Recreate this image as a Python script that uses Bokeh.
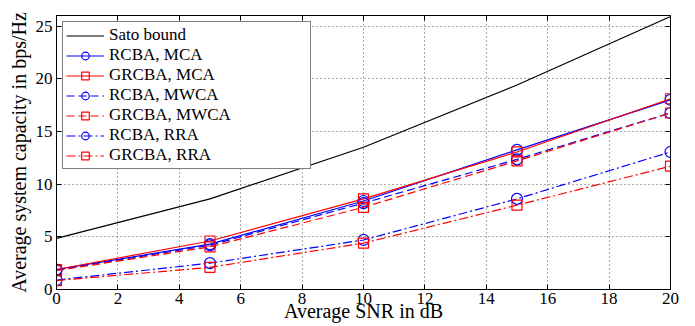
from bokeh.plotting import figure
from bokeh.models import LinearAxis, FixedTicker, Range1d
from bokeh.embed import file_html
from bokeh.resources import INLINE

snr = [0, 5, 10, 15, 20]
sato = [4.85, 8.6, 13.5, 19.4, 25.9]
rcba_mca = [1.9, 4.3, 8.4, 13.25, 18.0]
grcba_mca = [1.9, 4.6, 8.6, 13.05, 18.1]
rcba_mwca = [1.85, 4.2, 8.2, 12.35, 16.75]
grcba_mwca = [1.8, 4.05, 7.8, 12.2, 16.75]
rcba_rra = [0.9, 2.5, 4.7, 8.6, 13.05]
grcba_rra = [0.85, 2.1, 4.4, 8.0, 11.7]
x_ticks = [0, 2, 4, 6, 8, 10, 12, 14, 16, 18, 20]
y_ticks = [0, 5, 10, 15, 20, 25]

FONT = "Liberation Serif"

p = figure(width=695, height=326, output_backend="svg", toolbar_location=None,
           x_range=Range1d(0, 20), y_range=Range1d(0, 26),
           min_border_left=56, min_border_right=25, min_border_top=15, min_border_bottom=37,
           x_axis_label="Average SNR in dB", y_axis_label="Average system capacity in bps/Hz")
p.background_fill_color = "white"
p.border_fill_color = "white"
p.outline_line_color = "black"
p.outline_line_width = 1

for ax, ticks in ((p.xaxis[0], x_ticks), (p.yaxis[0], y_ticks)):
    ax.ticker = FixedTicker(ticks=ticks)
    ax.major_tick_in = 5
    ax.major_tick_out = 0
    ax.minor_tick_line_color = None
    ax.axis_line_color = "black"
    ax.major_tick_line_color = "black"
    ax.major_label_text_font = FONT
    ax.major_label_text_font_size = "17px"
    ax.major_label_text_color = "black"
    ax.axis_label_text_font = FONT
    ax.axis_label_text_font_size = "20px"
    ax.axis_label_text_font_style = "normal"
    ax.axis_label_text_color = "black"

p.xaxis[0].major_label_standoff = 3
p.xaxis[0].axis_label_standoff = -7
p.yaxis[0].major_label_standoff = 4
p.yaxis[0].axis_label_standoff = 3

for loc, ticks in (("above", x_ticks), ("right", y_ticks)):
    ax = LinearAxis(ticker=FixedTicker(ticks=ticks))
    ax.major_tick_in = 5
    ax.major_tick_out = 0
    ax.minor_tick_line_color = None
    ax.major_label_text_font_size = "0px"
    ax.major_label_text_color = None
    ax.major_label_standoff = 0
    ax.axis_line_color = "black"
    p.add_layout(ax, loc)

for g in (p.xgrid[0], p.ygrid[0]):
    g.grid_line_color = "#555555"
    g.grid_line_dash = "1 3"
    g.grid_line_width = 1
p.xgrid[0].ticker = FixedTicker(ticks=x_ticks)
p.ygrid[0].ticker = FixedTicker(ticks=y_ticks)

p.line(snr, sato, line_color="black", line_width=1.2, legend_label="Sato bound")

series = [
    (rcba_mca, "blue", "circle", "solid", "RCBA, MCA"),
    (grcba_mca, "red", "square", "solid", "GRCBA, MCA"),
    (rcba_mwca, "blue", "circle", "8 4", "RCBA, MWCA"),
    (grcba_mwca, "red", "square", "8 4", "GRCBA, MWCA"),
    (rcba_rra, "blue", "circle", "9 3 2 3", "RCBA, RRA"),
    (grcba_rra, "red", "square", "9 3 2 3", "GRCBA, RRA"),
]
for ys, col, mk, dash, lab in series:
    p.line(snr, ys, line_color=col, line_width=1.2, line_dash=dash, legend_label=lab)
    p.scatter(snr, ys, marker=mk, size=11 if mk == "circle" else 10, fill_color=None,
              line_color=col, line_width=1.2, legend_label=lab)

lg = p.legend[0]
lg.location = "top_left"
lg.margin = 6
lg.padding = 3
lg.spacing = -1
lg.glyph_width = 38
lg.glyph_height = 19
lg.label_height = 19
lg.label_standoff = 5
lg.label_width = 198
lg.label_text_font = FONT
lg.label_text_font_size = "17px"
lg.label_text_color = "black"
lg.border_line_color = "black"
lg.border_line_width = 1.2
lg.background_fill_color = "white"
lg.background_fill_alpha = 1

open("out.html", "w").write(file_html(p, INLINE))
